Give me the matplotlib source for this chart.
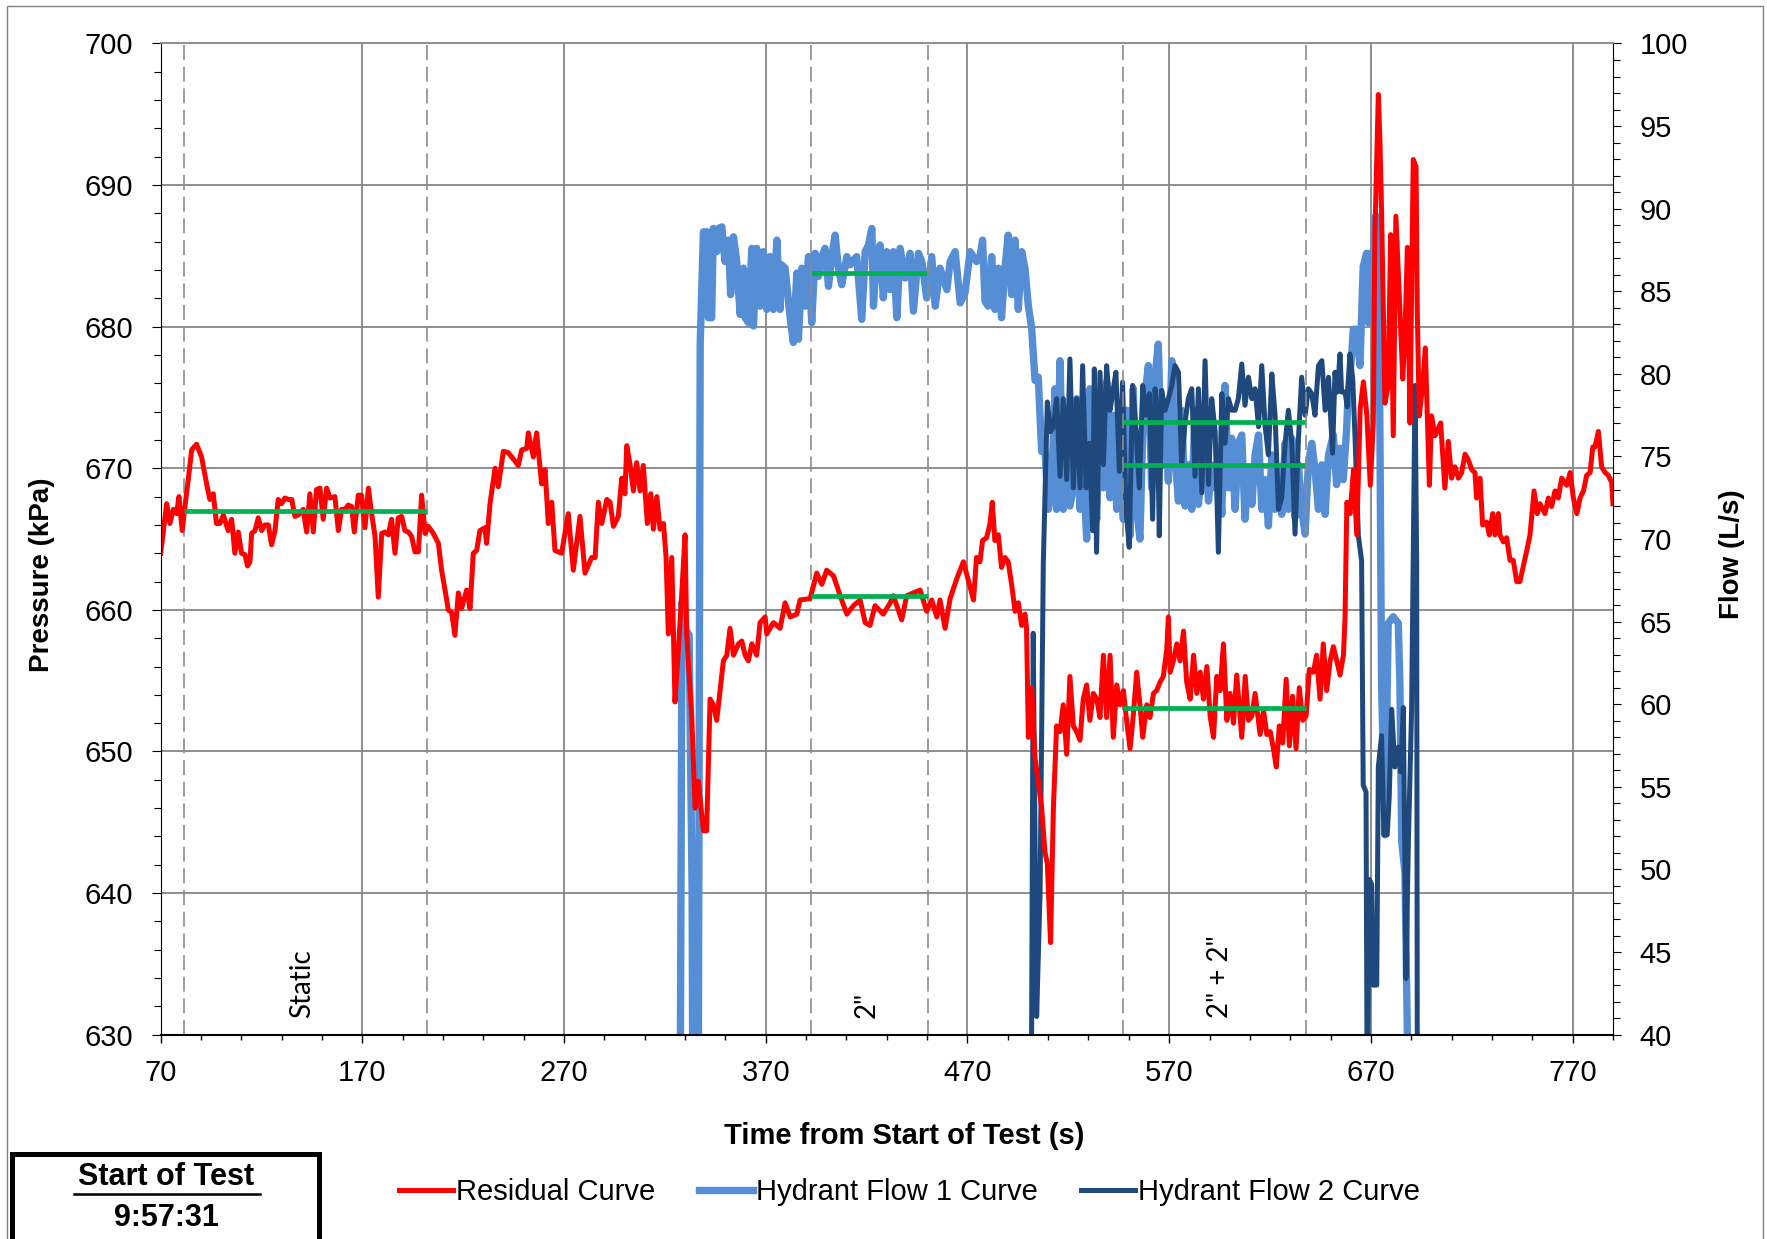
import numpy as np
import matplotlib.pyplot as plt
from matplotlib import transforms
from matplotlib.lines import Line2D
from matplotlib.patches import Rectangle

plt.rcParams['font.family'] = ['Liberation Sans', 'DejaVu Sans']

RED = '#FF0000'
BLUE1 = '#558ED5'
BLUE2 = '#1F497D'
GREEN = '#00B050'
GRID = '#868686'

# residual pressure (kPa)
residual_t = [
    70.0, 70.8, 73.0, 74.6, 76.3, 77.9, 79.1, 80.7, 82.4, 83.7,
    85.4, 87.8, 90.3, 92.8, 94.4, 96.1, 97.7, 99.4, 101.1, 103.5,
    105.2, 106.8, 108.5, 110.1, 111.8, 113.1, 114.3, 115.1, 116.8, 118.4,
    120.1, 121.7, 123.4, 125.0, 126.7, 128.3, 130.0, 131.6, 133.3, 135.0,
    136.6, 138.2, 140.7, 142.4, 144.0, 145.7, 147.3, 149.0, 150.6, 152.3,
    154.0, 156.4, 158.1, 159.7, 161.4, 163.0, 164.7, 166.0, 168.0, 169.6,
    171.3, 173.0, 174.6, 176.3, 177.9, 179.6, 181.2, 182.9, 184.5, 186.2,
    187.8, 189.5, 191.1, 192.8, 194.4, 196.1, 197.8, 199.4, 201.1, 202.7,
    205.2, 207.7, 209.3, 211.0, 212.6, 214.3, 215.9, 217.6, 219.2, 221.7,
    223.4, 225.0, 226.7, 228.3, 230.8, 231.6, 233.3, 235.8, 237.4, 239.9,
    242.4, 247.3, 249.0, 251.5, 252.3, 254.8, 256.4, 258.9, 260.6, 262.2,
    263.9, 265.5, 268.8, 272.1, 274.6, 277.9, 280.4, 283.7, 285.4, 287.0,
    288.7, 291.2, 292.8, 294.5, 296.9, 298.6, 300.2, 301.1, 302.7, 304.4,
    306.0, 307.7, 309.3, 311.3, 313.0, 314.3, 316.0, 317.6, 319.3, 320.6,
    321.7, 323.4, 325.0, 326.7, 328.3, 330.0, 330.8, 333.3, 335.0, 336.6,
    339.1, 340.7, 342.4, 344.0, 345.7, 349.0, 350.7, 352.3, 354.0, 356.5,
    358.1, 359.8, 361.4, 363.1, 365.5, 367.2, 369.7, 370.5, 373.8, 377.1,
    379.6, 382.1, 385.4, 387.0, 392.0, 395.3, 397.8, 400.2, 403.6, 406.9,
    410.2, 413.5, 416.8, 419.3, 421.7, 424.2, 428.3, 431.7, 433.3, 437.4,
    439.9, 446.5, 449.8, 452.3, 454.8, 456.4, 458.9, 461.4, 464.7, 468.0,
    473.0, 474.5, 476.2, 477.5, 479.5, 481.2, 482.3, 483.6, 485.3, 486.9,
    488.6, 490.2, 491.9, 493.6, 495.2, 496.9, 498.5, 499.3, 500.2, 501.8,
    503.5, 505.1, 506.8, 508.4, 509.6, 511.2, 512.6, 514.2, 515.9, 517.5,
    519.2, 520.8, 522.5, 524.1, 525.8, 527.4, 529.1, 530.7, 532.4, 534.1,
    535.7, 537.4, 539.0, 540.7, 542.3, 544.0, 545.6, 547.3, 548.9, 550.6,
    552.2, 553.9, 555.5, 556.9, 558.9, 560.5, 562.2, 563.8, 565.5, 567.1,
    568.8, 569.6, 570.5, 572.1, 573.8, 575.4, 577.1, 578.7, 580.4, 582.1,
    583.7, 585.4, 587.0, 588.7, 590.3, 592.0, 593.6, 595.3, 596.9, 598.6,
    600.2, 601.9, 603.5, 606.0, 607.7, 609.3, 611.0, 612.6, 615.1, 616.8,
    618.4, 620.1, 621.7, 623.1, 624.6, 626.3, 628.0, 629.6, 631.2, 632.9,
    634.5, 636.2, 637.9, 639.5, 641.5, 643.1, 644.8, 646.4, 648.1, 649.8,
    651.4, 653.1, 654.7, 656.4, 657.2, 658.1, 659.7, 661.4, 663.0, 664.7,
    666.3, 668.0, 669.7, 671.2, 672.0, 673.7, 674.5, 675.3, 677.0, 678.6,
    679.8, 681.1, 682.4, 684.4, 685.8, 686.9, 688.1, 689.4, 691.0, 692.4,
    693.0, 694.0, 695.7, 697.0, 699.0, 700.1, 701.8, 703.4, 704.6, 706.7,
    708.4, 710.0, 711.7, 713.4, 715.0, 716.7, 718.3, 720.0, 721.6, 722.4,
    724.1, 725.4, 727.4, 728.7, 730.4, 731.5, 733.2, 734.0, 735.7, 737.3,
    739.0, 740.6, 742.3, 743.9, 745.6, 747.3, 748.9, 750.9, 752.5, 753.8,
    756.3, 758.0, 759.6, 761.3, 762.9, 764.6, 767.1, 768.8, 770.4, 772.1,
    773.7, 775.4, 777.0, 778.7, 780.0, 781.1, 782.8, 784.4, 786.1, 787.7,
    789.4, 790.0,
]
residual_kpa = [
    664.0, 664.9, 667.5, 666.1, 667.1, 666.8, 668.0, 665.6, 667.7, 669.2,
    671.3, 671.7, 670.8, 668.9, 667.8, 668.2, 666.1, 666.1, 666.7, 665.6,
    666.4, 664.0, 665.5, 664.0, 663.9, 663.1, 663.4, 665.4, 665.6, 666.5,
    665.6, 666.0, 666.0, 664.6, 665.6, 667.8, 667.5, 667.9, 667.8, 667.8,
    666.6, 666.7, 667.1, 665.5, 668.2, 665.5, 668.5, 668.6, 666.4, 668.6,
    667.9, 668.0, 665.6, 667.1, 667.1, 667.4, 667.3, 665.5, 668.1, 668.1,
    665.8, 668.6, 666.8, 665.2, 660.9, 665.4, 665.5, 665.3, 666.4, 664.0,
    666.5, 666.6, 665.6, 665.5, 665.2, 664.1, 664.1, 668.1, 665.4, 665.9,
    665.4, 664.7, 662.8, 661.4, 660.0, 659.8, 658.2, 661.2, 660.1, 661.4,
    660.1, 664.0, 664.2, 665.6, 665.8, 664.7, 667.5, 670.0, 668.7, 671.2,
    671.1, 670.2, 671.3, 671.4, 672.5, 670.8, 672.5, 668.9, 669.9, 666.1,
    667.6, 664.2, 664.0, 666.8, 662.8, 666.6, 662.6, 663.7, 663.7, 667.6,
    666.1, 667.8, 667.6, 665.9, 666.6, 669.3, 668.2, 671.6, 670.3, 668.4,
    670.4, 668.4, 670.2, 666.1, 668.2, 665.7, 668.0, 665.7, 666.1, 663.7,
    658.3, 663.7, 653.5, 657.2, 661.0, 665.3, 658.3, 652.5, 646.0, 647.9,
    644.4, 644.4, 653.7, 653.3, 652.2, 656.4, 656.8, 658.7, 656.8, 657.6,
    657.8, 656.8, 656.4, 657.6, 656.8, 659.1, 659.5, 658.3, 659.1, 658.7,
    660.5, 659.5, 659.7, 660.7, 660.8, 662.6, 661.8, 662.8, 662.4, 661.0,
    659.7, 660.3, 660.7, 659.1, 658.9, 660.3, 659.7, 660.5, 661.0, 659.3,
    661.0, 661.4, 659.9, 660.7, 659.5, 660.7, 658.7, 660.8, 662.2, 663.4,
    660.7, 663.7, 663.4, 664.9, 665.1, 666.1, 667.6, 664.9, 665.3, 663.0,
    663.7, 663.4, 661.8, 659.9, 660.5, 658.9, 659.7, 658.7, 651.0, 654.5,
    649.5, 647.9, 646.0, 642.9, 642.1, 636.5, 646.0, 651.8, 651.4, 653.3,
    649.8, 655.3, 651.8, 651.4, 650.8, 653.7, 654.7, 652.2, 654.1, 653.7,
    652.4, 656.8, 652.4, 656.8, 651.0, 654.7, 653.3, 654.3, 652.2, 650.2,
    652.5, 655.6, 653.3, 651.0, 653.3, 652.4, 654.1, 654.3, 654.9, 655.3,
    657.2, 659.5, 655.6, 656.4, 657.6, 656.4, 658.5, 654.9, 653.7, 656.8,
    654.1, 655.6, 653.7, 656.0, 652.5, 651.0, 655.3, 654.3, 657.6, 652.2,
    654.1, 652.0, 655.4, 651.0, 655.3, 652.2, 652.5, 654.1, 651.2, 652.9,
    651.2, 651.4, 650.2, 648.9, 651.8, 650.6, 655.1, 650.4, 653.9, 650.2,
    654.5, 652.2, 652.5, 655.8, 655.6, 656.8, 653.7, 657.6, 654.3, 656.4,
    657.4, 656.4, 655.4, 656.8, 659.5, 667.6, 666.8, 669.9, 665.3, 674.2,
    676.1, 673.8, 668.8, 673.2, 686.5, 696.4, 693.1, 688.2, 674.6, 675.9,
    686.5, 672.3, 687.8, 681.2, 676.3, 679.4, 685.6, 673.2, 691.8, 691.3,
    681.2, 673.7, 675.9, 678.5, 668.8, 673.7, 672.3, 672.8, 673.2, 668.6,
    671.9, 669.3, 670.1, 669.3, 669.7, 671.0, 670.6, 669.9, 669.7, 667.9,
    669.3, 666.0, 666.2, 665.3, 666.8, 665.3, 666.8, 665.3, 664.8, 665.1,
    663.5, 663.5, 662.0, 662.0, 663.1, 664.2, 665.3, 668.4, 666.8, 667.5,
    666.8, 667.9, 667.3, 668.4, 667.9, 669.3, 668.8, 669.7, 667.9, 666.8,
    667.9, 668.4, 669.5, 669.7, 671.5, 671.5, 672.6, 670.1, 669.7, 669.5,
    669.0, 667.5,
]

# hydrant 1 flow (L/s), 0 = hydrant closed
flow1_t = [
    70.0, 326.5, 328.5, 330.4, 332.0, 333.5, 334.8, 335.8, 337.5, 339.1,
    340.7, 341.6, 343.2, 344.0, 345.7, 346.5, 348.2, 349.8, 351.5, 352.6,
    354.0, 355.6, 357.3, 358.9, 359.8, 361.4, 363.1, 363.9, 365.5, 367.2,
    368.8, 370.5, 372.1, 373.8, 375.5, 377.1, 377.9, 379.6, 382.1, 383.7,
    385.4, 386.2, 387.9, 389.5, 391.2, 392.8, 394.5, 396.1, 397.8, 399.4,
    401.1, 402.7, 404.4, 406.0, 407.7, 410.2, 411.8, 413.5, 415.1, 417.6,
    419.3, 420.9, 422.6, 423.4, 425.0, 426.7, 428.3, 430.0, 431.7, 433.3,
    435.0, 436.6, 439.1, 441.6, 443.2, 445.7, 447.4, 449.8, 452.3, 454.0,
    456.4, 459.8, 461.4, 463.9, 466.4, 468.8, 471.3, 474.5, 476.2, 477.5,
    478.7, 480.3, 482.0, 483.6, 485.3, 486.9, 488.6, 490.2, 491.9, 493.6,
    495.2, 496.9, 498.5, 500.2, 501.8, 503.5, 505.1, 506.8, 508.4, 510.1,
    511.7, 513.4, 514.2, 515.9, 517.5, 519.2, 520.8, 522.5, 524.1, 525.8,
    527.4, 529.1, 530.7, 532.4, 534.1, 535.7, 537.4, 539.0, 540.7, 542.3,
    544.0, 545.6, 547.3, 548.9, 550.6, 552.2, 553.9, 555.5, 557.2, 559.7,
    561.3, 563.0, 564.6, 566.3, 568.0, 569.6, 571.3, 572.9, 574.6, 576.2,
    577.9, 579.5, 581.2, 582.8, 584.5, 586.2, 587.8, 589.5, 591.1, 592.8,
    594.4, 596.1, 597.7, 599.4, 601.0, 602.7, 604.3, 606.0, 607.6, 609.3,
    611.0, 612.6, 614.3, 615.9, 617.6, 619.2, 620.9, 622.5, 624.2, 625.8,
    627.5, 629.1, 630.8, 632.4, 634.1, 635.7, 637.4, 639.0, 640.7, 642.3,
    644.0, 645.7, 647.3, 649.0, 651.4, 653.0, 654.7, 656.3, 658.0, 658.8,
    660.5, 661.3, 662.9, 664.6, 666.2, 667.9, 668.7, 669.6, 670.9, 672.0,
    673.7, 674.5, 675.3, 677.0, 678.6, 681.1, 683.6, 684.4, 685.3, 686.9,
    688.1, 689.0, 790.0,
]
flow1_lps = [
    0.0, 0.0, 66.2, 64.5, 64.2, 48.6, 0.0, 0.0, 81.8, 88.6,
    88.6, 83.4, 83.4, 88.8, 87.4, 88.8, 88.9, 86.8, 88.1, 84.8,
    88.3, 86.8, 83.6, 86.4, 83.4, 83.1, 87.6, 82.9, 87.6, 84.1,
    87.4, 83.9, 87.1, 83.9, 88.1, 83.9, 86.6, 86.4, 83.4, 81.9,
    86.1, 82.1, 86.4, 84.1, 87.1, 83.1, 87.3, 85.9, 87.1, 87.6,
    85.3, 87.1, 88.4, 86.4, 85.4, 87.1, 86.6, 86.9, 87.1, 83.3,
    87.4, 87.8, 88.8, 84.1, 87.4, 87.8, 84.6, 87.4, 85.1, 87.4,
    83.4, 87.6, 85.8, 87.3, 83.8, 87.3, 86.8, 84.6, 87.1, 84.1,
    86.4, 85.1, 86.8, 87.4, 84.3, 84.9, 87.4, 86.8, 87.1, 88.1,
    84.4, 84.1, 87.1, 83.9, 86.4, 83.4, 86.4, 88.4, 84.8, 88.1,
    83.9, 87.4, 86.4, 84.1, 82.8, 79.6, 79.8, 75.3, 75.5, 71.8,
    73.1, 79.1, 71.8, 80.8, 71.8, 75.1, 72.0, 73.1, 78.5, 71.8,
    74.5, 70.0, 79.1, 73.1, 71.2, 78.5, 73.1, 79.5, 72.5, 77.5,
    71.8, 74.5, 71.2, 77.8, 70.2, 79.1, 71.8, 70.0, 77.8, 80.5,
    73.1, 79.8, 81.8, 74.5, 77.8, 73.5, 80.8, 75.1, 72.3, 77.8,
    72.0, 74.5, 71.8, 77.8, 72.1, 74.5, 77.1, 72.3, 74.5, 73.1,
    75.1, 71.5, 79.3, 73.1, 76.1, 71.8, 75.8, 76.3, 71.2, 74.2,
    72.1, 75.1, 76.3, 71.8, 73.6, 70.8, 75.1, 71.8, 74.3, 71.5,
    75.8, 71.8, 76.1, 71.3, 74.5, 71.8, 70.3, 74.5, 75.8, 74.2,
    71.8, 74.5, 71.5, 75.1, 76.3, 73.3, 75.5, 73.6, 76.7, 78.9,
    81.2, 82.7, 82.7, 80.5, 86.5, 87.3, 83.1, 87.3, 85.0, 89.5,
    89.5, 76.3, 61.2, 52.1, 64.9, 65.3, 64.9, 61.2, 51.7, 49.8,
    40.0, 0.0, 0.0,
]

# hydrant 2 flow (L/s)
flow2_t = [
    70.0, 500.5, 502.6, 504.3, 506.0, 507.6, 509.6, 511.2, 512.6, 514.2,
    515.9, 517.5, 519.2, 520.8, 522.5, 524.1, 525.8, 527.1, 528.8, 530.4,
    532.1, 532.9, 534.0, 535.7, 537.4, 539.0, 540.7, 542.3, 543.6, 545.3,
    546.9, 548.6, 550.2, 551.9, 553.6, 555.2, 556.9, 558.5, 560.2, 561.8,
    563.0, 564.1, 565.1, 566.3, 568.0, 569.6, 571.3, 572.9, 574.6, 576.2,
    577.9, 579.5, 581.2, 582.8, 584.5, 586.2, 587.8, 589.5, 591.1, 592.8,
    594.4, 596.1, 597.7, 599.4, 601.0, 602.7, 604.3, 606.0, 607.6, 609.3,
    611.0, 612.6, 614.3, 615.9, 617.6, 619.2, 620.9, 622.5, 624.2, 625.8,
    627.5, 629.1, 630.8, 632.4, 634.1, 635.7, 637.4, 639.0, 640.7, 642.3,
    644.0, 645.7, 647.3, 649.0, 651.0, 652.2, 653.4, 654.7, 655.5, 657.2,
    658.3, 659.6, 661.0, 662.1, 663.8, 665.4, 666.2, 667.6, 668.2, 669.2,
    670.4, 671.2, 672.9, 673.7, 675.3, 676.5, 678.1, 679.1, 680.3, 681.9,
    683.6, 684.8, 686.1, 687.4, 688.6, 690.2, 691.9, 692.7, 693.4, 790.0,
]
flow2_lps = [
    0.0, 0.0, 64.3, 41.1, 48.6, 68.5, 78.3, 76.5, 76.8, 78.5,
    73.8, 78.5, 73.6, 80.9, 73.1, 78.5, 73.1, 80.5, 73.1, 75.8,
    70.5, 80.3, 69.2, 80.1, 74.5, 80.5, 77.8, 79.1, 80.1, 74.1,
    79.5, 71.8, 69.5, 79.3, 76.5, 73.1, 79.3, 77.5, 78.8, 71.2,
    79.1, 77.8, 70.2, 79.0, 77.8, 78.5, 79.3, 80.5, 80.1, 74.5,
    77.1, 78.5, 79.1, 73.8, 79.1, 72.8, 80.8, 73.3, 78.5, 76.5,
    69.2, 78.8, 75.8, 78.5, 77.8, 77.8, 78.5, 80.6, 78.1, 79.8,
    78.5, 79.1, 76.8, 80.5, 76.8, 75.1, 80.0, 77.5, 71.8, 72.5,
    75.8, 77.8, 75.8, 70.3, 76.1, 79.8, 77.5, 79.1, 78.8, 77.5,
    80.5, 80.8, 77.8, 79.8, 75.2, 80.1, 78.9, 81.2, 78.9, 78.9,
    78.0, 81.2, 79.7, 76.3, 70.2, 68.7, 55.1, 54.7, 35.0, 49.4,
    49.1, 43.0, 43.0, 56.2, 58.1, 52.1, 52.1, 54.4, 59.7, 56.2,
    57.4, 55.9, 59.8, 43.4, 51.7, 59.7, 79.3, 68.7, 0.0, 0.0,
]

# stage boundaries and the averaged values (green)
stage_edges = [81.5, 202, 392.5, 450.5, 547, 638]
stage_names = ['Static', '2"', '2" + 2"']
stage_label_t = [140, 420, 595]
avg_kpa = [667.0, 661.0, 653.1]
avg_kpa_from = [81.5, 392.5, 547]
avg_kpa_to = [202, 450.5, 638]
avg_lps = [86.1, 77.1, 74.5]
avg_lps_from = [392.5, 547, 547]
avg_lps_to = [450.5, 638, 638]

fig = plt.figure(figsize=(17.67, 12.39), dpi=100)
ax = fig.add_axes([0.0909, 0.1649, 0.8219, 0.8])
ax2 = ax.twinx()
ax.set_zorder(ax2.get_zorder() + 1)
ax.patch.set_visible(False)

ax.set_xlim(70, 790)
ax.set_ylim(630, 700)
ax2.set_ylim(40, 100)

xmaj = np.arange(70, 771, 100)
pmaj = np.arange(630, 701, 10)

# gridlines go on the back axes so the flow curves cover them
ax2.vlines(xmaj[1:], 0, 1, transform=ax2.get_xaxis_transform(), colors=GRID, lw=1.3, zorder=0)
hgrid = transforms.blended_transform_factory(ax2.transAxes, ax.transData)
for p in pmaj[1:-1]:
    ax2.plot([0, 1], [p, p], transform=hgrid, color=GRID, lw=1.3, zorder=0)

ax2.plot(flow1_t, flow1_lps, color=BLUE1, lw=5.3, zorder=2)
ax2.plot(flow2_t, flow2_lps, color=BLUE2, lw=3.6, zorder=3)
ax2.hlines(avg_lps, avg_lps_from, avg_lps_to, colors=GREEN, lw=3.4, zorder=5)

ax.vlines(stage_edges, 630, 700, colors='#8C8C8C', lw=1.2, linestyles=(0, (9, 4)), zorder=1)
ax.plot(residual_t, residual_kpa, color=RED, lw=3.6, zorder=2)
ax.hlines(avg_kpa, avg_kpa_from, avg_kpa_to, colors=GREEN, lw=3.4, zorder=4)

for t, s in zip(stage_label_t, stage_names):
    ax.text(t, 631.2, s, rotation=90, ha='center', va='bottom', fontsize=20,
            family=['Lato', 'DejaVu Sans'])

# ticks
ax.set_xticks(xmaj)
ax.set_xticks(np.arange(70, 791, 20), minor=True)
ax.set_yticks(pmaj)
ax.set_yticks(np.arange(630, 701, 2), minor=True)
ax2.set_yticks(np.arange(40, 101, 5))
ax2.set_yticks(np.arange(40, 101, 1), minor=True)

ax.tick_params(axis='y', which='major', direction='out', length=6.3, width=0.8, pad=13.5, labelsize=21)
ax.tick_params(axis='y', which='minor', direction='out', length=5, width=0.8)
ax.tick_params(axis='x', which='major', direction='out', length=5.8, width=1.0, pad=11.5, labelsize=21)
ax.tick_params(axis='x', which='minor', direction='out', length=3.6, width=1.0)
ax2.tick_params(axis='y', which='major', direction='out', length=6, width=0.8, pad=13, labelsize=21)
ax2.tick_params(axis='y', which='minor', direction='out', length=5, width=0.8)

ax.spines['top'].set_color(GRID)
ax.spines['top'].set_linewidth(1.3)
ax.spines['left'].set_linewidth(0.8)
ax.spines['bottom'].set_linewidth(1.5)
ax.spines['right'].set_visible(False)
for side in ['left', 'top', 'bottom']:
    ax2.spines[side].set_visible(False)
ax2.spines['right'].set_linewidth(0.8)

# axis titles
W, H = 1767.0, 1239.0
fig.text(904 / W, 1 - 1136 / H, 'Time from Start of Test (s)', ha='center', va='center',
         fontsize=21, fontweight='bold')
fig.text(41.7 / W, 1 - 575 / H, 'Pressure (kPa)', rotation=90, ha='center', va='center',
         fontsize=20, fontweight='bold')
fig.text(1732 / W, 1 - 554 / H, 'Flow (L/s)', rotation=90, ha='center', va='center',
         fontsize=20, fontweight='bold')

handles = [Line2D([], [], color=RED, lw=3.6),
           Line2D([], [], color=BLUE1, lw=5.3),
           Line2D([], [], color=BLUE2, lw=3.6)]
fig.legend(handles, ['Residual Curve', 'Hydrant Flow 1 Curve', 'Hydrant Flow 2 Curve'],
           loc='center', bbox_to_anchor=(0.5147, 1 - 1192 / H), ncol=3, frameon=False,
           fontsize=21, handlelength=1.85, handletextpad=0.1, columnspacing=1.5)

# outer chart border and start-of-test box
fig.patches.append(Rectangle((7 / W, -0.05), 1755.7 / W, 1.05 - 6 / H, transform=fig.transFigure,
                             fill=False, ec='#7F7F7F', lw=1.0))
fig.patches.append(Rectangle((11.5 / W, -0.05), 307 / W, 0.05 + 1 - 1154 / H,
                             transform=fig.transFigure, fill=False, ec='black', lw=3.6))
fig.text(166.5 / W, 1 - 1177 / H, 'Start of Test', ha='center', va='center', fontsize=22, fontweight='bold')
fig.add_artist(Line2D([73.5 / W, 259.5 / W], [1 - 1194 / H] * 2, transform=fig.transFigure,
                      color='black', lw=1.8))
fig.text(166.5 / W, 1 - 1218 / H, '9:57:31', ha='center', va='center', fontsize=22, fontweight='bold')

fig.savefig('out.png', dpi=100)
